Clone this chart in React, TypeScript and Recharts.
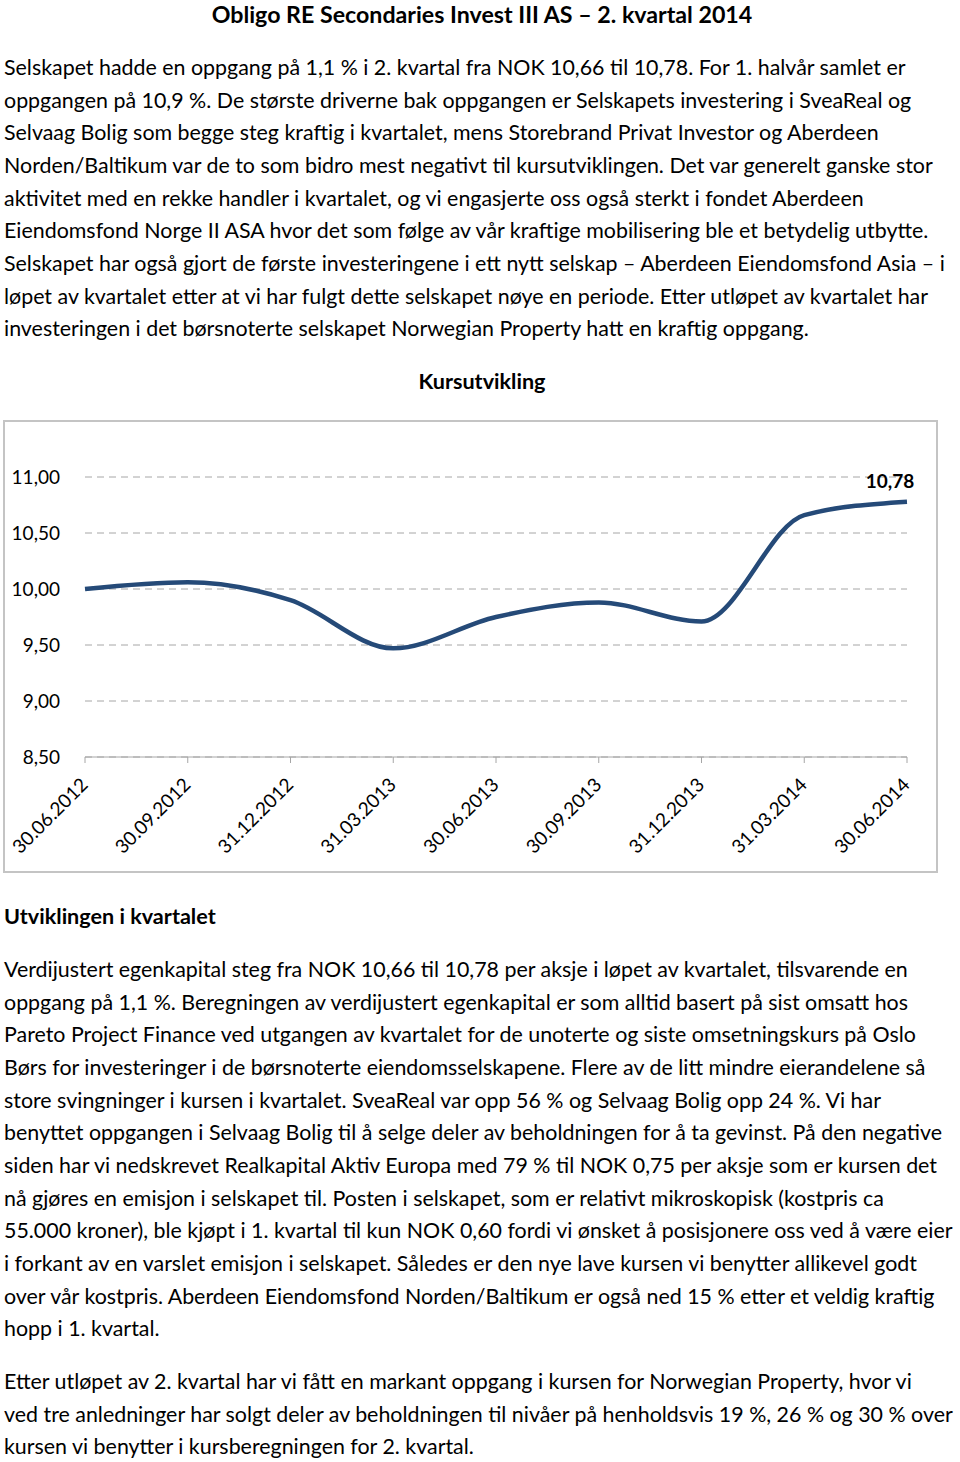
import { CartesianGrid, LabelList, Line, LineChart, XAxis, YAxis } from "recharts";

const title = "Obligo RE Secondaries Invest III AS – 2. kvartal 2014";

const introLines = [
  "Selskapet hadde en oppgang på 1,1 % i 2. kvartal fra NOK 10,66 til 10,78. For 1. halvår samlet er",
  "oppgangen på 10,9 %. De største driverne bak oppgangen er Selskapets investering i SveaReal og",
  "Selvaag Bolig som begge steg kraftig i kvartalet, mens Storebrand Privat Investor og Aberdeen",
  "Norden/Baltikum var de to som bidro mest negativt til kursutviklingen. Det var generelt ganske stor",
  "aktivitet med en rekke handler i kvartalet, og vi engasjerte oss også sterkt i fondet Aberdeen",
  "Eiendomsfond Norge II ASA hvor det som følge av vår kraftige mobilisering ble et betydelig utbytte.",
  "Selskapet har også gjort de første investeringene i ett nytt selskap – Aberdeen Eiendomsfond Asia – i",
  "løpet av kvartalet etter at vi har fulgt dette selskapet nøye en periode. Etter utløpet av kvartalet har",
  "investeringen i det børsnoterte selskapet Norwegian Property hatt en kraftig oppgang.",
];

const chartTitle = "Kursutvikling";
const sectionTitle = "Utviklingen i kvartalet";

const quarterLines = [
  "Verdijustert egenkapital steg fra NOK 10,66 til 10,78 per aksje i løpet av kvartalet, tilsvarende en",
  "oppgang på 1,1 %. Beregningen av verdijustert egenkapital er som alltid basert på sist omsatt hos",
  "Pareto Project Finance ved utgangen av kvartalet for de unoterte og siste omsetningskurs på Oslo",
  "Børs for investeringer i de børsnoterte eiendomsselskapene. Flere av de litt mindre eierandelene så",
  "store svingninger i kursen i kvartalet. SveaReal var opp 56 % og Selvaag Bolig opp 24 %. Vi har",
  "benyttet oppgangen i Selvaag Bolig til å selge deler av beholdningen for å ta gevinst. På den negative",
  "siden har vi nedskrevet Realkapital Aktiv Europa med 79 % til NOK 0,75 per aksje som er kursen det",
  "nå gjøres en emisjon i selskapet til. Posten i selskapet, som er relativt mikroskopisk (kostpris ca",
  "55.000 kroner), ble kjøpt i 1. kvartal til kun NOK 0,60 fordi vi ønsket å posisjonere oss ved å være eier",
  "i forkant av en varslet emisjon i selskapet. Således er den nye lave kursen vi benytter allikevel godt",
  "over vår kostpris. Aberdeen Eiendomsfond Norden/Baltikum er også ned 15 % etter et veldig kraftig",
  "hopp i 1. kvartal.",
];

const afterLines = [
  "Etter utløpet av 2. kvartal har vi fått en markant oppgang i kursen for Norwegian Property, hvor vi",
  "ved tre anledninger har solgt deler av beholdningen til nivåer på henholdsvis 19 %, 26 % og 30 % over",
  "kursen vi benytter i kursberegningen for 2. kvartal.",
];

const dates = [
  "30.06.2012",
  "30.09.2012",
  "31.12.2012",
  "31.03.2013",
  "30.06.2013",
  "30.09.2013",
  "31.12.2013",
  "31.03.2014",
  "30.06.2014",
];
const nav = [10.0, 10.06, 9.9, 9.47, 9.75, 9.88, 9.71, 10.66, 10.78];
const yTicks = [8.5, 9, 9.5, 10, 10.5, 11];

const data = dates.map((d, i) => ({ date: d, nav: nav[i] }));

const font = "Lato, 'Open Sans', sans-serif";
const fmt = (v: number) => v.toFixed(2).replace(".", ",");

function Lines({ lines, top }: { lines: string[]; top: number }) {
  return (
    <>
      {lines.map((t, i) => (
        <div
          key={i}
          style={{
            position: "absolute",
            left: 4,
            top: top + i * 32.65 - 15,
            height: 30,
            lineHeight: "30px",
            fontSize: 21.4,
            whiteSpace: "nowrap",
          }}
        >
          {t}
        </div>
      ))}
    </>
  );
}

function DateTick(props: any) {
  const { x, y, payload } = props;
  return (
    <g transform={`translate(${x + 4},${y + 21}) rotate(-45)`}>
      <text x={0} y={0} textAnchor="end" fontSize={19} fill="#000" fontFamily={font}>
        {payload.value}
      </text>
    </g>
  );
}

function LastLabel(props: any) {
  const { x, y, index, value } = props;
  if (index !== nav.length - 1) return null;
  return (
    <text x={x - 17} y={y - 14} textAnchor="middle" fontSize={19} fontWeight={700} fill="#000" fontFamily={font}>
      {fmt(value)}
    </text>
  );
}

export default function App() {
  return (
    <div
      style={{
        position: "absolute",
        left: 0,
        top: 0,
        width: 960,
        height: 1462,
        background: "#fff",
        color: "#000",
        fontFamily: font,
        overflow: "hidden",
      }}
    >
      <div
        style={{
          position: "absolute",
          left: 0,
          width: 964,
          top: 0,
          textAlign: "center",
          fontWeight: 700,
          fontSize: 23.2,
          lineHeight: "28px",
        }}
      >
        {title}
      </div>
      <Lines lines={introLines} top={67} />
      <div
        style={{
          position: "absolute",
          left: 0,
          width: 964,
          top: 366,
          textAlign: "center",
          fontWeight: 700,
          fontSize: 21.6,
          lineHeight: "30px",
        }}
      >
        {chartTitle}
      </div>

      <div
        style={{
          position: "absolute",
          left: 3,
          top: 420,
          width: 935,
          height: 453,
          border: "2px solid #c4c4c4",
          boxSizing: "border-box",
        }}
      >
        <LineChart width={931} height={449} data={data} margin={{ top: 55, right: 29, bottom: 4, left: 0 }}>
          <CartesianGrid stroke="#a6a6a6" strokeDasharray="7 5" vertical={false} />
          <XAxis
            dataKey="date"
            interval={0}
            height={110}
            stroke="#a6a6a6"
            tickSize={6}
            tick={<DateTick />}
          />
          <YAxis
            domain={[8.5, 11]}
            ticks={yTicks}
            width={80}
            axisLine={false}
            tickLine={false}
            tickMargin={19}
            tickFormatter={fmt}
            tick={{ fontSize: 19, fill: "#000", fontFamily: font }}
          />
          <Line
            type="monotone"
            dataKey="nav"
            stroke="#254a78"
            strokeWidth={4.5}
            dot={false}
            isAnimationActive={false}
          >
            <LabelList dataKey="nav" content={<LastLabel />} />
          </Line>
        </LineChart>
      </div>

      <div
        style={{
          position: "absolute",
          left: 4,
          top: 901,
          fontWeight: 700,
          fontSize: 21.6,
          lineHeight: "30px",
        }}
      >
        {sectionTitle}
      </div>
      <Lines lines={quarterLines} top={969} />
      <Lines lines={afterLines} top={1381} />
    </div>
  );
}
